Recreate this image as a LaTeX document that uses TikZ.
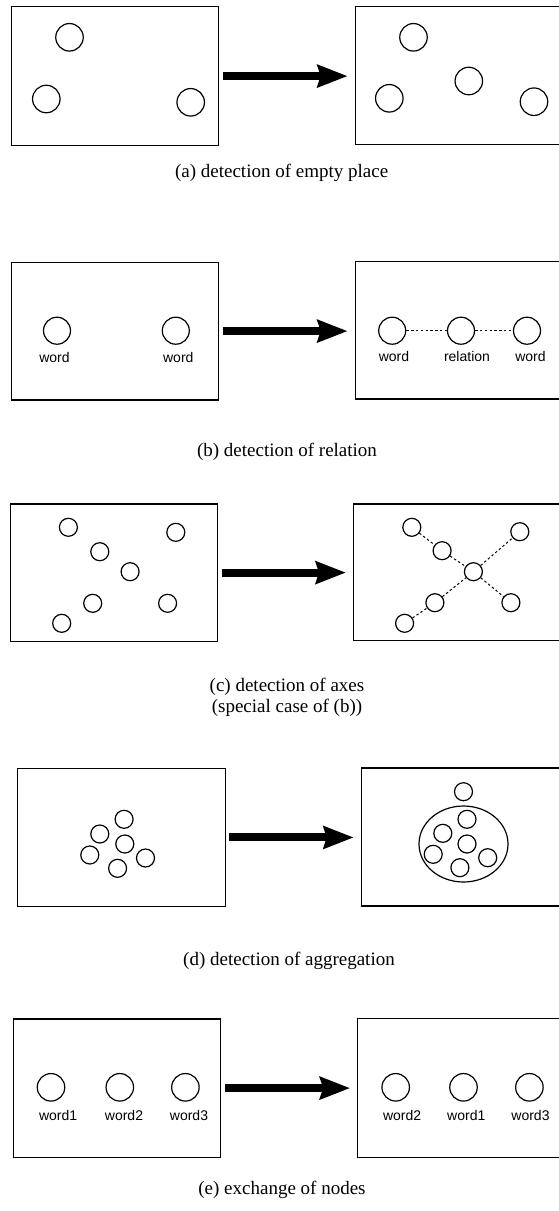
\documentclass[tikz,border=0pt]{standalone}
\usepackage{fontspec}
\setmainfont{Liberation Serif}
\setsansfont{Liberation Sans}
\usetikzlibrary{arrows.meta,shapes.geometric}
\begin{document}
\begin{tikzpicture}[x=1pt,y=-1pt,
  panel/.style={draw, line width=1.2pt, rectangle, inner sep=0pt, anchor=north west},
  ring/.style={draw, circle, line width=1.2pt, inner sep=0pt, minimum size=#1},
  ring/.default=27.5pt,
  lbl/.style={font=\sffamily\fontsize{14}{16}\selectfont, inner sep=0pt},
  captext/.style={font=\fontsize{19}{21}\selectfont, inner sep=0pt, align=center},
  rel/.style={line width=1pt, dash pattern=on 2.4pt off 2.4pt},
  bigarrow/.style={line width=8pt, -{Stealth[length=30pt,width=22pt,inset=3pt]}, shorten <=3.5pt, shorten >=7pt}]
\useasboundingbox (0,0) rectangle (559,1211);
\clip (0,0) rectangle (559,1211);

% ---------- (a) ----------
\node[panel, minimum width=207.5pt, minimum height=139pt] (la) at (10.7,6) {};
\node[panel, minimum width=220pt, minimum height=137.5pt] (ra) at (354.7,6) {};
\draw[bigarrow] (la.east) -- (la.east -| ra.west);
\node[ring] (a1) at (69.5,37.3) {};
\node[ring] (a2) at (46.3,99) {};
\node[ring] (a3) at (190.7,102.3) {};
\node[ring] (b1) at (413.5,37.3) {};
\node[ring] (b2) at (468.8,81) {};
\node[ring] (b3) at (389.3,98.3) {};
\node[ring] (b4) at (534,101.7) {};
\node[captext] (capa) at (281.6,172.7) {(a) detection of empty place};

% ---------- (b) ----------
\node[panel, minimum width=207.5pt, minimum height=137.6pt] (lb) at (10.7,261.7) {};
\node[panel, minimum width=220pt, minimum height=137.6pt] (rb) at (354.7,260.7) {};
\draw[bigarrow] (lb.east) -- (lb.east -| rb.west);
\node[ring=27pt] (c1) at (57,330.7) {};
\node[ring=27pt] (c2) at (175.8,330.7) {};
\node[ring=27pt] (d1) at (392.2,330.7) {};
\node[ring=27pt] (d2) at (461,330.7) {};
\node[ring=27pt] (d3) at (527,330.7) {};
\draw[rel] (d1) -- (d2);
\draw[rel] (d2) -- (d3);
\node[lbl] (wc1) at (54.5,357.3) {word};
\node[lbl] (wc2) at (178.3,357.3) {word};
\node[lbl] (wd1) at (394,356.7) {word};
\node[lbl] (wd2) at (467,356.7) {relation};
\node[lbl] (wd3) at (530.5,356.7) {word};
\node[captext] (capb) at (287,452) {(b) detection of relation};

% ---------- (c) ----------
\node[panel, minimum width=206.8pt, minimum height=137.4pt] (lc) at (10,503.3) {};
\node[panel, minimum width=220pt, minimum height=136.7pt] (rc) at (353,503.3) {};
\draw[bigarrow] (lc.east) -- (lc.east -| rc.west);
\node[ring=18pt] (e1) at (68.4,527.3) {};
\node[ring=18pt] (e2) at (99.8,551.7) {};
\node[ring=18pt] (e3) at (130.1,571.7) {};
\node[ring=18pt] (e4) at (175.8,532.3) {};
\node[ring=18pt] (e5) at (92.7,603.3) {};
\node[ring=18pt] (e6) at (167.6,603.3) {};
\node[ring=18pt] (e7) at (61.7,623.3) {};
\node[ring=18pt] (f1) at (411.8,527.3) {};
\node[ring=18pt] (f2) at (442.1,550.7) {};
\node[ring=18pt] (f3) at (473.4,571.7) {};
\node[ring=18pt] (f4) at (519.8,531.7) {};
\node[ring=18pt] (f5) at (434.9,602.7) {};
\node[ring=18pt] (f6) at (510.9,602.7) {};
\node[ring=18pt] (f7) at (404.6,623.3) {};
\draw[rel] (f1) -- (f2);
\draw[rel] (f2) -- (f3);
\draw[rel] (f3) -- (f6);
\draw[rel] (f7) -- (f5);
\draw[rel] (f5) -- (f3);
\draw[rel] (f3) -- (f4);
\node[captext] (capc) at (287,697) {(c) detection of axes\\(special case of (b))};

% ---------- (d) ----------
\node[panel, minimum width=207.5pt, minimum height=138.3pt] (ld) at (17.1,767.7) {};
\node[panel, minimum width=220pt, minimum height=138pt] (rd) at (360.8,767.3) {};
\draw[bigarrow] (ld.east) -- (ld.east -| rd.west);
\node[ring=18pt] (g1) at (124.1,819.3) {};
\node[ring=18pt] (g2) at (99.8,834) {};
\node[ring=18pt] (g3) at (124.8,844) {};
\node[ring=18pt] (g4) at (89.8,855) {};
\node[ring=18pt] (g5) at (145.5,858) {};
\node[ring=18pt] (g6) at (117.6,868.3) {};
\node[ring=18pt] (h0) at (463.5,791.7) {};
\node[draw, ellipse, line width=1.2pt, inner sep=0pt, minimum width=89pt, minimum height=76pt] (agg) at (463.5,844) {};
\node[ring=18pt] (h1) at (467,819.3) {};
\node[ring=18pt] (h2) at (442.8,833.3) {};
\node[ring=18pt] (h3) at (467,844) {};
\node[ring=18pt] (h4) at (433.2,854.3) {};
\node[ring=18pt] (h5) at (487.7,857.7) {};
\node[ring=18pt] (h6) at (459.9,867.7) {};
\node[captext] (capd) at (289,961) {(d) detection of aggregation};

% ---------- (e) ----------
\node[panel, minimum width=206.8pt, minimum height=138.4pt] (le) at (13.2,1018.3) {};
\node[panel, minimum width=220pt, minimum height=139pt] (re) at (357.2,1017.7) {};
\draw[bigarrow] (le.east) -- (le.east -| re.west);
\node[ring] (k1) at (51,1087.3) {};
\node[ring] (k2) at (119.8,1087.3) {};
\node[ring] (k3) at (185.4,1087.3) {};
\node[ring] (m1) at (395.7,1087.3) {};
\node[ring] (m2) at (463.5,1087.3) {};
\node[ring] (m3) at (529.4,1087.3) {};
\node[lbl] (wk1) at (58.1,1115) {word1};
\node[lbl] (wk2) at (124,1115) {word2};
\node[lbl] (wk3) at (189,1115) {word3};
\node[lbl] (wm1) at (402.1,1115) {word2};
\node[lbl] (wm2) at (466.3,1115) {word1};
\node[lbl] (wm3) at (530.5,1115) {word3};
\node[captext] (cape) at (282,1190) {(e) exchange of nodes};
\end{tikzpicture}
\end{document}
